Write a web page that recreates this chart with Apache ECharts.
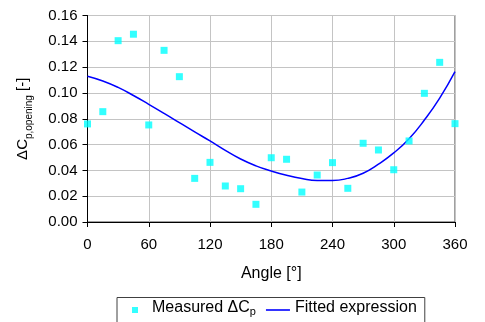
<!DOCTYPE html>
<html><head><meta charset="utf-8">
<script src="https://cdn.jsdelivr.net/npm/echarts@6/dist/echarts.min.js"></script>
<style>html,body{margin:0;padding:0;background:#fff}#c{width:485px;height:322px}</style>
</head><body><div id="c"></div>
<script>
var measuredAngles = [0,15,30,45,60,75,90,105,120,135,150,165,180,195,210,225,240,255,270,285,300,315,330,345,360];
var measuredValues = [0.076,0.0855,0.1405,0.1455,0.0752,0.133,0.1126,0.0338,0.0462,0.0279,0.0258,0.0137,0.0498,0.0486,0.0232,0.0364,0.046,0.0261,0.061,0.0558,0.0405,0.0628,0.0997,0.1237,0.0762];
var fitAngles = [0,15,30,45,60,75,90,105,120,135,150,165,180,195,210,225,240,255,270,285,300,315,330,345,360];
var fitValues = [0.113,0.1093,0.1043,0.098,0.0912,0.0842,0.077,0.0698,0.0628,0.0555,0.0488,0.0435,0.0395,0.0362,0.0337,0.0322,0.0321,0.0338,0.0378,0.0448,0.0535,0.0645,0.079,0.096,0.1165];

var font = 'Liberation Sans, Arial, sans-serif';
var chart = echarts.init(document.getElementById('c'));
chart.setOption({
  animation: false,
  textStyle: {fontFamily: font, color: '#000'},
  grid: {left: 87.5, right: 30, top: 15.5, bottom: 100, show: true, borderColor: '#404040', borderWidth: 1},
  xAxis: {
    type: 'value', min: 0, max: 360, interval: 60,
    name: 'Angle [°]', nameLocation: 'middle', nameGap: 44,
    nameTextStyle: {fontSize: 16, color: '#000', fontFamily: font},
    axisLine: {show: true, lineStyle: {color: '#000', width: 1}},
    axisTick: {show: true, length: 5, lineStyle: {color: '#000'}},
    axisLabel: {fontSize: 15, color: '#000', margin: 15, fontFamily: font},
    splitLine: {show: true, lineStyle: {color: '#c4c4c4', width: 1}}
  },
  yAxis: {
    type: 'value', min: 0, max: 0.16, interval: 0.02,
    name: '{a|ΔC}{s|p,opening}{a| [-]}', nameLocation: 'middle', nameGap: 57, nameRotate: 90,
    nameTextStyle: {fontFamily: font, rich: {
      a: {fontSize: 15, color: '#000', fontFamily: font, verticalAlign: 'bottom', lineHeight: 18},
      s: {fontSize: 10, color: '#000', fontFamily: font, verticalAlign: 'bottom', lineHeight: 12, padding: [0,0,-4,0]}
    }},
    axisLine: {show: true, lineStyle: {color: '#000', width: 1}},
    axisTick: {show: true, length: 5, lineStyle: {color: '#000'}},
    axisLabel: {fontSize: 15, color: '#000', margin: 10, fontFamily: font, formatter: function (v) { return v.toFixed(2); }},
    splitLine: {show: true, lineStyle: {color: '#c4c4c4', width: 1}}
  },
  legend: {
    show: true,
    orient: 'horizontal',
    left: 117, top: 297.5,
    padding: [2, 8, 8, 6],
    borderColor: '#404040', borderWidth: 1,
    itemGap: 10, itemWidth: 24, itemHeight: 16,
    data: [
      {name: 'Measured', icon: 'path://M-9,-5M15,11M0,0h6v6h-6z', itemStyle: {color: '#00ffff'}},
      {name: 'Fitted', icon: 'path://M0,0h24v1.6h-24z', itemStyle: {color: '#0000ff'}}
    ],
    formatter: function (n) { return n === 'Measured' ? 'Measured ΔC{s|p}' : 'Fitted expression'; },
    textStyle: {fontFamily: font, fontSize: 16, color: '#000', lineHeight: 16, padding: [0, 0, 5, 0], rich: {
      s: {fontSize: 11, color: '#000', fontFamily: font, padding: [8,0,0,0]}
    }}
  },
  series: [
    {
      name: 'Measured', type: 'scatter', symbol: 'rect', symbolSize: 7,
      itemStyle: {color: '#00ffff'},
      data: measuredAngles.map(function (a, i) { return [a, measuredValues[i]]; }),
      z: 3
    },
    {
      name: 'Fitted', type: 'line', smooth: true, showSymbol: false, symbol: 'none',
      lineStyle: {color: '#0000ff', width: 1.5},
      itemStyle: {color: '#0000ff'},
      data: fitAngles.map(function (a, i) { return [a, fitValues[i]]; }),
      z: 2
    }
  ]
});
</script></body></html>
